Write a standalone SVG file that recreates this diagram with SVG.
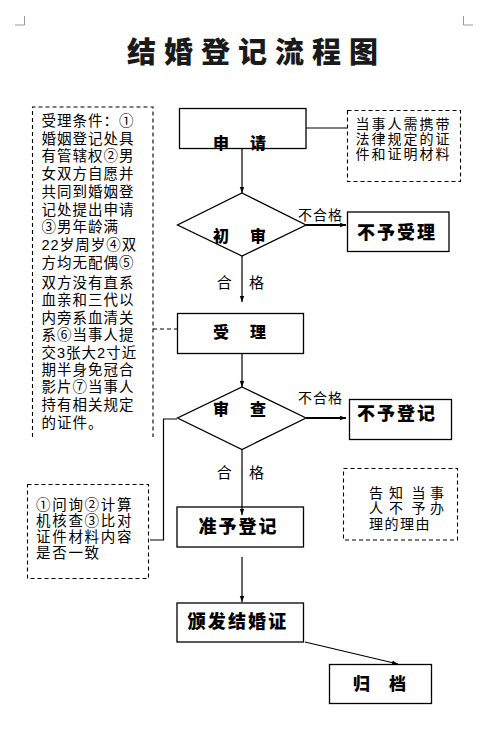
<svg xmlns="http://www.w3.org/2000/svg" width="494" height="743" viewBox="0 0 494 743">
<style>
.box{fill:none;stroke:#000;stroke-width:1.3}
.dash{fill:none;stroke:#000;stroke-width:1.1;stroke-dasharray:4 3}
.ln{fill:none;stroke:#000;stroke-width:1.2}
.thick{fill:none;stroke:#000;stroke-width:2}
.t{font-family:"Liberation Sans","Noto Sans CJK SC",sans-serif;fill:#000}
.b{font-family:"Noto Sans CJK SC",sans-serif;font-weight:800;fill:#000}
.title{font-family:"Noto Sans CJK SC",sans-serif;font-weight:900;font-size:29px;letter-spacing:8px;fill:#1a1a1a}
</style>
<defs>
<marker id="ah" viewBox="0 0 6 6" refX="6" refY="3" markerWidth="6" markerHeight="6" markerUnits="userSpaceOnUse" orient="auto">
<path d="M0,0.8 L6,3 L0,5.2 z" fill="#000"/>
</marker>
</defs>
<rect width="494" height="743" fill="#fff"/>
<g id="corners" stroke="#999" stroke-width="1" fill="none">
<path d="M15,25 H24.5 V16"/>
<path d="M473,25 H463.5 V16"/>
</g>
<text class="title" x="127" y="63">结婚登记流程图</text>

<g id="connectors">
<path class="ln" d="M306,128 H347"/>
<path class="ln" d="M242,148 V193" marker-end="url(#ah)"/>
<path class="thick" d="M306,225 H346" marker-end="url(#ah)"/>
<path class="ln" d="M242,256 V302" marker-end="url(#ah)"/>
<path class="dash" d="M153,329 H177"/>
<path class="ln" d="M242,353 V387" marker-end="url(#ah)"/>
<path class="thick" d="M306,418 H346" marker-end="url(#ah)"/>
<path class="ln" d="M177,419 H163.5 V540 H150"/>
<path class="ln" d="M242,449 V515" marker-end="url(#ah)"/>
<path class="ln" d="M242,557 V602" marker-end="url(#ah)"/>
<path class="ln" d="M305,642 L398,664" marker-end="url(#ah)"/>
</g>

<g id="labels">
<text class="t" font-size="14" letter-spacing="1" x="298" y="219.5">不合格</text>
<text class="t" font-size="14" letter-spacing="1" x="298" y="402.5">不合格</text>
<text class="t" font-size="15" x="216.7 249" y="288">合格</text>
<text class="t" font-size="15" x="216.7 249" y="478">合格</text>
</g>

<g id="conditions">
<path class="dash" d="M32.5,437 V107 H153 V437"/>
<text class="t" font-size="14.5" letter-spacing="1">
<tspan x="41.5" y="126">受理条件：①</tspan>
<tspan x="41.5" y="143.7">婚姻登记处具</tspan>
<tspan x="41.5" y="161.4">有管辖权②男</tspan>
<tspan x="41.5" y="179.1">女双方自愿并</tspan>
<tspan x="41.5" y="196.8">共同到婚姻登</tspan>
<tspan x="41.5" y="214.5">记处提出申请</tspan>
<tspan x="41.5" y="232.2">③男年龄满</tspan>
<tspan x="41.5" y="249.9">22岁周岁④双</tspan>
<tspan x="41.5" y="267.6">方均无配偶⑤</tspan>
<tspan x="41.5" y="288">双方没有直系</tspan>
<tspan x="41.5" y="305">血亲和三代以</tspan>
<tspan x="41.5" y="322.5">内旁系血清关</tspan>
<tspan x="41.5" y="340">系⑥当事人提</tspan>
<tspan x="41.5" y="357.5">交3张大2寸近</tspan>
<tspan x="41.5" y="375">期半身免冠合</tspan>
<tspan x="41.5" y="392">影片⑦当事人</tspan>
<tspan x="41.5" y="409.5">持有相关规定</tspan>
<tspan x="41.5" y="428">的证件。</tspan>
</text>
</g>

<g id="materials">
<rect class="dash" x="347.5" y="110.5" width="113" height="71"/>
<text class="t" font-size="14" letter-spacing="2">
<tspan x="355.5" y="129">当事人需携带</tspan>
<tspan x="355.5" y="144">法律规定的证</tspan>
<tspan x="355.5" y="159">件和证明材料</tspan>
</text>
</g>

<g id="apply">
<rect class="box" x="179.5" y="108.5" width="126.5" height="40"/>
<text class="b" font-size="16" x="213 250" y="149">申请</text>
</g>

<g id="prelim">
<path class="box" d="M242,193 L306,225 L242,256 L177.5,225 Z"/>
<text class="b" font-size="16" x="213 250" y="242">初审</text>
</g>

<g id="reject1">
<rect class="box" x="347.5" y="212" width="101.5" height="39.5"/>
<text class="b" font-size="18" letter-spacing="2" x="357" y="238.5">不予受理</text>
</g>

<g id="accept">
<rect class="box" x="177.5" y="313.5" width="126" height="40"/>
<text class="b" font-size="16" x="213 250" y="337.5">受理</text>
</g>

<g id="review">
<path class="box" d="M242,387 L306,418 L242,449.5 L177.5,418 Z"/>
<text class="b" font-size="16" x="213 250" y="414.5">审查</text>
</g>

<g id="reject2">
<rect class="box" x="349.5" y="399.5" width="102" height="40"/>
<text class="b" font-size="18" letter-spacing="2" x="357" y="420">不予登记</text>
</g>

<g id="checks">
<rect class="dash" x="27.5" y="484.5" width="121" height="94"/>
<text class="t" font-size="14.5" letter-spacing="1.7">
<tspan x="36" y="509.5">①问询②计算</tspan>
<tspan x="36" y="525.5">机核查③比对</tspan>
<tspan x="36" y="541.5">证件材料内容</tspan>
<tspan x="36" y="557.5">是否一致</tspan>
</text>
</g>

<g id="notify">
<rect class="dash" x="343.5" y="468.5" width="114" height="71.5"/>
<text class="t" font-size="14">
<tspan x="369 389 411.5 430" y="497.5">告知当事</tspan>
<tspan x="369 389 411.5 430" y="512.5">人不予办</tspan>
<tspan x="369" y="529" letter-spacing="1.5">理的理由</tspan>
</text>
</g>

<g id="approve">
<rect class="box" x="177" y="507" width="126.5" height="40"/>
<text class="b" font-size="18" letter-spacing="2" x="198.5" y="532.5">准予登记</text>
</g>

<g id="certificate">
<rect class="box" x="177" y="603" width="126.5" height="39"/>
<text class="b" font-size="18" letter-spacing="2.2" x="187.5" y="627.5">颁发结婚证</text>
</g>

<g id="archive">
<rect class="box" x="329.5" y="664.5" width="102" height="39"/>
<text class="b" font-size="17" x="353 389" y="690">归档</text>
</g>
</svg>
